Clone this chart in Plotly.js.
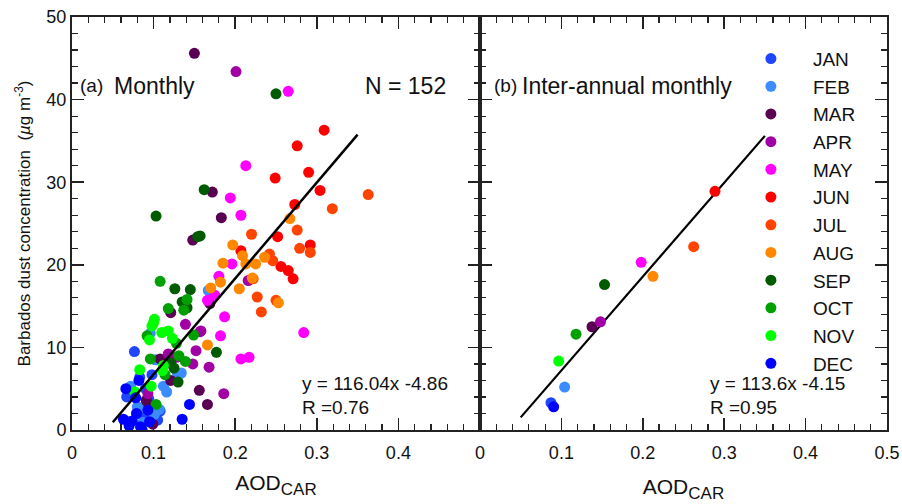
<!DOCTYPE html>
<html>
<head>
<meta charset="utf-8">
<script src="https://cdn.plot.ly/plotly-3.0.1.min.js"></script>
<style>html,body{margin:0;padding:0;background:#fff;}#chart{width:902px;height:504px;}</style>
</head>
<body>
<div id="chart"></div>
<script>
// ---- data ----
const MONTHS = ['JAN','FEB','MAR','APR','MAY','JUN','JUL','AUG','SEP','OCT','NOV','DEC'];
const COLORS = ['#1f45ff','#3a8cff','#5a0052','#a000a4','#ff00ff','#ff0000','#ff4400','#ff8800','#005a00','#00a000','#00ff00','#0000ff'];

// (a) monthly values: AOD_CAR and Barbados dust concentration
const JAN_AOD  = [0.0765,0.083,0.098,0.067,0.094,0.097,0.108,0.070,0.088,0.105,0.080,0.090];
const JAN_DUST = [9.5,6.4,6.7,4.0,3.8,2.6,2.3,1.0,1.5,1.2,2.0,5.0];
const FEB_AOD  = [0.096,0.102,0.129,0.134,0.112,0.116,0.072,0.089,0.080,0.107,0.101,0.087,0.167];
const FEB_DUST = [11.7,8.5,6.9,6.9,5.3,4.6,5.3,2.9,2.8,2.5,1.9,0.9,16.9];
const MAR_AOD  = [0.150,0.172,0.183,0.148,0.169,0.121,0.108,0.121,0.156,0.166,0.091,0.099,0.094];
const MAR_DUST = [45.6,28.8,25.7,23.0,15.3,14.2,8.6,6.0,4.8,3.1,3.6,0.7,3.1];
const APR_AOD  = [0.201,0.216,0.158,0.139,0.157,0.152,0.128,0.148,0.168,0.186,0.093,0.118];
const APR_DUST = [43.4,18.1,12.0,12.8,11.9,9.6,8.8,8.0,7.6,4.4,4.4,9.2];
const MAY_AOD  = [0.265,0.213,0.194,0.207,0.196,0.180,0.175,0.166,0.187,0.182,0.284,0.207,0.217];
const MAY_DUST = [41.0,32.0,28.1,26.0,20.1,18.6,16.3,15.7,13.7,11.4,11.8,8.6,8.8];
const JUN_AOD  = [0.309,0.276,0.249,0.290,0.304,0.273,0.252,0.207,0.292,0.256,0.265,0.271];
const JUN_DUST = [36.3,34.4,30.5,31.2,29.0,27.3,23.4,21.7,22.4,19.8,19.3,18.3];
const JUL_AOD  = [0.363,0.319,0.220,0.276,0.279,0.292,0.242,0.246,0.227,0.250,0.232,0.222];
const JUL_DUST = [28.5,26.8,23.7,24.2,22.0,21.5,21.3,20.5,16.1,15.7,14.3,18.3];
const AUG_AOD  = [0.267,0.197,0.209,0.236,0.185,0.213,0.225,0.182,0.170,0.221,0.205,0.253,0.166];
const AUG_DUST = [25.6,22.4,21.1,20.9,20.2,20.1,20.1,17.9,17.2,18.4,17.1,15.4,10.3];
const SEP_AOD  = [0.250,0.162,0.103,0.157,0.154,0.126,0.145,0.135,0.141,0.177,0.130,0.121,0.125];
const SEP_DUST = [40.7,29.1,25.9,23.5,23.4,17.1,17.0,15.5,14.8,9.4,5.8,8.1,7.5];
const OCT_AOD  = [0.108,0.141,0.137,0.118,0.092,0.149,0.096,0.139,0.114,0.103,0.131,0.128];
const OCT_DUST = [18.0,15.8,14.5,14.7,11.4,11.5,8.6,8.3,6.7,3.1,9.0,10.5];
const NOV_AOD  = [0.101,0.100,0.098,0.095,0.110,0.118,0.123,0.083,0.111,0.097,0.112,0.077];
const NOV_DUST = [13.4,13.0,12.6,10.9,11.8,12.0,11.1,7.3,7.2,5.3,7.8,4.6];
const DEC_AOD  = [0.144,0.135,0.078,0.079,0.063,0.074,0.084,0.086,0.093,0.066,0.082,0.095,0.070];
const DEC_DUST = [3.1,1.3,3.9,2.0,1.3,1.1,0.4,0.0,2.4,5.0,6.0,1.0,0.5];

// (b) inter-annual monthly means
const INTER_AOD  = [0.0872,0.104,0.1376,0.148,0.198,0.2887,0.2625,0.2125,0.153,0.118,0.0967,0.0905];
const INTER_DUST = [3.3,5.2,12.5,13.1,20.3,28.9,22.2,18.6,17.6,11.6,8.35,2.8];

// tick labels
const X_TICKS_A = [0,0.1,0.2,0.3,0.4];
const X_TICKS_B = [0,0.1,0.2,0.3,0.4,0.5];
const Y_TICKS   = [0,10,20,30,40,50];

// regression fits shown in the figure
const FIT_A = {slope:116.04, intercept:-4.86, x:[0.05,0.35], eq:'y = 116.04x -4.86', r:'R =0.76'};
const FIT_B = {slope:113.6,  intercept:-4.15, x:[0.05,0.35], eq:'y = 113.6x -4.15',  r:'R =0.95'};

const MONTHLY_AOD  = [JAN_AOD,FEB_AOD,MAR_AOD,APR_AOD,MAY_AOD,JUN_AOD,JUL_AOD,AUG_AOD,SEP_AOD,OCT_AOD,NOV_AOD,DEC_AOD];
const MONTHLY_DUST = [JAN_DUST,FEB_DUST,MAR_DUST,APR_DUST,MAY_DUST,JUN_DUST,JUL_DUST,AUG_DUST,SEP_DUST,OCT_DUST,NOV_DUST,DEC_DUST];

// ---- traces ----
const FONT = 'Arial, "Liberation Sans", sans-serif';
const traces = [];
MONTHS.forEach((m, i) => {
  traces.push({
    type:'scatter', mode:'markers', name:m, x:MONTHLY_AOD[i], y:MONTHLY_DUST[i],
    xaxis:'x', yaxis:'y', marker:{color:COLORS[i], size:11, line:{width:0}},
    legendgroup:m, showlegend:true
  });
});
traces.push({type:'scatter', mode:'lines', x:FIT_A.x, y:FIT_A.x.map(v => FIT_A.slope*v + FIT_A.intercept),
  xaxis:'x', yaxis:'y', line:{color:'#000', width:2.5}, showlegend:false, hoverinfo:'skip'});
traces.push({type:'scatter', mode:'lines', x:FIT_B.x, y:FIT_B.x.map(v => FIT_B.slope*v + FIT_B.intercept),
  xaxis:'x2', yaxis:'y2', line:{color:'#000', width:2.2}, showlegend:false, hoverinfo:'skip'});
MONTHS.forEach((m, i) => {
  traces.push({
    type:'scatter', mode:'markers', name:m, x:[INTER_AOD[i]], y:[INTER_DUST[i]],
    xaxis:'x2', yaxis:'y2', marker:{color:COLORS[i], size:11, line:{width:0}},
    legendgroup:m, showlegend:false
  });
});

const axBase = {
  showgrid:false, zeroline:false, showline:true, linecolor:'#222', linewidth:2,
  mirror:'allticks', ticks:'inside', ticklen:12, tickwidth:1.5, tickcolor:'#222',
  tickfont:{family:FONT, size:18, color:'#111'}
};
const xMinor = {tickmode:'linear', dtick:0.02, tick0:0, ticks:'inside', ticklen:6, tickwidth:1.2, tickcolor:'#222', showgrid:false};
const yMinor = {tickmode:'linear', dtick:2, tick0:0, ticks:'inside', ticklen:6, tickwidth:1.2, tickcolor:'#222', showgrid:false};
const xTitle = (standoff) => ({text:'AOD<sub><span style="font-size:17px">CAR</span></sub>', font:{family:FONT, size:21, color:'#111'}, standoff:standoff});

const layout = {
  width:902, height:504,
  margin:{l:72, r:15, t:17, b:74},
  paper_bgcolor:'#fff', plot_bgcolor:'#fff',
  font:{family:FONT, color:'#111'},
  xaxis:Object.assign({}, axBase, {domain:[0,0.5006], range:[0,0.5], tickmode:'array', tickvals:X_TICKS_A,
      ticktext:X_TICKS_A.map(String), ticklabelstandoff:5, minor:xMinor, anchor:'y', title:xTitle(14)}),
  xaxis2:Object.assign({}, axBase, {domain:[0.5006,1], range:[0,0.5], tickmode:'array', tickvals:X_TICKS_B,
      ticktext:X_TICKS_B.map(String), ticklabelstandoff:5, minor:xMinor, anchor:'y2', title:xTitle(18)}),
  yaxis:Object.assign({}, axBase, {domain:[0,1], range:[0,50], tickmode:'array', tickvals:Y_TICKS,
      ticktext:Y_TICKS.map(String), minor:yMinor, anchor:'x',
      title:{text:'Barbados dust concentration  (<i>µ</i>g m<sup>-3</sup>)', font:{family:FONT, size:17, color:'#111'}, standoff:11}}),
  yaxis2:Object.assign({}, axBase, {domain:[0,1], range:[0,50], tickmode:'array', tickvals:Y_TICKS,
      minor:yMinor, anchor:'x2', showticklabels:false}),
  showlegend:true,
  legend:{x:0.806, y:0.945, xanchor:'left', yanchor:'top', bgcolor:'rgba(0,0,0,0)', borderwidth:0,
    font:{family:FONT, size:19, color:'#111'}, itemwidth:74, tracegroupgap:0},
  annotations:[
    {xref:'paper', yref:'paper', x:0.0074, y:0.833, xanchor:'left', yanchor:'middle', text:'(a)', showarrow:false, font:{family:FONT, size:19, color:'#111'}},
    {xref:'paper', yref:'paper', x:0.049, y:0.833, xanchor:'left', yanchor:'middle', text:'Monthly', showarrow:false, font:{family:FONT, size:23, color:'#111'}},
    {xref:'paper', yref:'paper', x:0.461, y:0.833, xanchor:'right', yanchor:'middle', text:'N = 152', showarrow:false, font:{family:FONT, size:23, color:'#111'}},
    {xref:'paper', yref:'paper', x:0.515, y:0.833, xanchor:'left', yanchor:'middle', text:'(b)', showarrow:false, font:{family:FONT, size:19, color:'#111'}},
    {xref:'paper', yref:'paper', x:0.5497, y:0.833, xanchor:'left', yanchor:'middle', text:'Inter-annual monthly', showarrow:false, font:{family:FONT, size:23, color:'#111'}},
    {xref:'paper', yref:'paper', x:0.2798, y:0.1114, xanchor:'left', yanchor:'middle', text:FIT_A.eq, showarrow:false, font:{family:FONT, size:19, color:'#111'}},
    {xref:'paper', yref:'paper', x:0.2798, y:0.0533, xanchor:'left', yanchor:'middle', text:FIT_A.r, showarrow:false, font:{family:FONT, size:19, color:'#111'}},
    {xref:'paper', yref:'paper', x:0.7804, y:0.1114, xanchor:'left', yanchor:'middle', text:FIT_B.eq, showarrow:false, font:{family:FONT, size:19, color:'#111'}},
    {xref:'paper', yref:'paper', x:0.7804, y:0.0533, xanchor:'left', yanchor:'middle', text:FIT_B.r, showarrow:false, font:{family:FONT, size:19, color:'#111'}}
  ]
};

Plotly.newPlot('chart', traces, layout, {staticPlot:true, displayModeBar:false});
</script>
</body>
</html>
